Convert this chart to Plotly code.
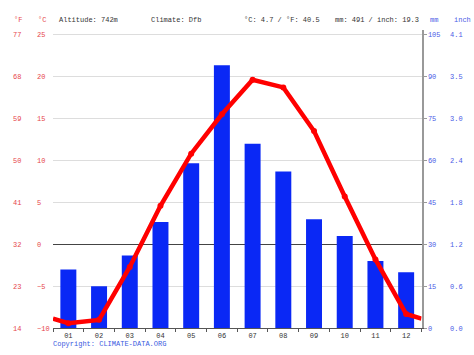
import plotly.graph_objects as go

months = ['01', '02', '03', '04', '05', '06', '07', '08', '09', '10', '11', '12']
precip_mm = [21, 15, 26, 38, 59, 94, 66, 56, 39, 33, 24, 20]
temp_c = [-9.4, -9.0, -2.7, 4.6, 10.8, 15.5, 19.6, 18.7, 13.5, 5.7, -1.8, -8.3]

temp_ticks_c = [-10, -5, 0, 5, 10, 15, 20, 25]
temp_ticks_f = ['14', '23', '32', '41', '50', '59', '68', '77']
mm_ticks = [0, 15, 30, 45, 60, 75, 90, 105]
inch_ticks = ['0.0', '0.6', '1.2', '1.8', '2.4', '3.0', '3.5', '4.1']

header_items = [
    ('°F', 13, 'red'), ('°C', 37, 'red'),
    ('Altitude: 742m', 58, 'dark'), ('Climate: Dfb', 150, 'dark'),
    ('°C: 4.7 / °F: 40.5', 243, 'dark'), ('mm: 491 / inch: 19.3', 334, 'dark'),
    ('mm', 429, 'blue'), ('inch', 453, 'blue'),
]

W, H = 474, 355
FONT = 'Liberation Mono'
RED = '#e6464b'
BLUE = '#4a5ce6'
DARK = '#333333'
colors = {'red': RED, 'blue': BLUE, 'dark': DARK}

xpos = list(range(1, 13))
edge = (temp_c[0] + temp_c[-1]) / 2

fig = go.Figure()
fig.add_bar(x=xpos, y=precip_mm, yaxis='y', marker_color='#0a28f5',
            marker_line_width=0, width=0.52, hoverinfo='skip')
fig.add_scatter(x=[0.5] + xpos + [12.5], y=[edge] + temp_c + [edge], yaxis='y2',
                mode='lines', line=dict(color='#ff0000', width=4.5), hoverinfo='skip')
fig.add_scatter(x=xpos, y=temp_c, yaxis='y2', mode='markers',
                marker=dict(color='#ff0000', size=6), hoverinfo='skip')
fig.add_scatter(x=[None], y=[None], yaxis='y3', hoverinfo='skip')
fig.add_scatter(x=[None], y=[None], yaxis='y4', hoverinfo='skip')

dom_y = [23 / H, (H - 30.7) / H]
tf = lambda c: dict(family=FONT, size=7, color=c)

fig.update_layout(
    autosize=True, margin=dict(l=0, r=0, t=0, b=0),
    plot_bgcolor='white', paper_bgcolor='white', showlegend=False,
    xaxis=dict(domain=[53 / W, 421.5 / W], range=[0.5, 12.5], tickvals=xpos, ticktext=months,
               showline=True, linecolor='#555555', linewidth=1, ticks='', showgrid=False,
               zeroline=False, tickfont=tf(DARK),
               minor=dict(tickvals=[0.5 + i for i in range(13)], ticks='outside',
                          ticklen=3, tickcolor='#555555', showgrid=False)),
    yaxis=dict(domain=dom_y, range=[0, 106.5], side='right', anchor='x',
               showline=True, linecolor='#999999', linewidth=2, ticks='outside',
               ticklen=3, tickcolor='#999999', tickvals=mm_ticks, tickfont=tf(BLUE),
               showgrid=False, zeroline=False),
    yaxis2=dict(overlaying='y', range=[-10, 25.5], side='right', anchor='free',
                position=36 / W, tickvals=temp_ticks_c, tickfont=tf(RED), ticks='',
                showgrid=True, gridcolor='#dddddd', gridwidth=1,
                zeroline=True, zerolinecolor='#444444', zerolinewidth=1, showline=False),
    yaxis3=dict(overlaying='y', range=[-10, 25.5], side='right', anchor='free',
                position=12 / W, tickvals=temp_ticks_c, ticktext=temp_ticks_f,
                tickfont=tf(RED), ticks='', showgrid=False, zeroline=False, showline=False),
    yaxis4=dict(overlaying='y', range=[0, 106.5], side='right', anchor='free',
                position=449 / W, tickvals=mm_ticks, ticktext=inch_ticks,
                tickfont=tf(BLUE), ticks='', showgrid=False, zeroline=False, showline=False),
)

for text, xp, c in header_items:
    fig.add_annotation(text=text, x=xp / W, y=1 - 20.7 / H, xref='paper', yref='paper',
                       xanchor='left', yanchor='middle', showarrow=False,
                       font=dict(family=FONT, size=7, color=colors[c]), borderpad=0)

fig.add_annotation(text='Copyright: CLIMATE-DATA.ORG', x=52 / W, y=1 - 348 / H,
                   xref='paper', yref='paper', xanchor='left', yanchor='middle',
                   showarrow=False, font=dict(family=FONT, size=7, color='#3a5ae0'), borderpad=0)

page_css = (
    "document.documentElement.style.margin='0';"
    "document.documentElement.style.overflow='hidden';"
    "document.body.style.margin='0';"
    "document.body.style.padding='0';"
    "document.body.style.overflow='hidden';"
)
fig.write_html('out.html', config={'displayModeBar': False, 'responsive': True},
               default_width='100vw', default_height='100vh', post_script=page_css)
